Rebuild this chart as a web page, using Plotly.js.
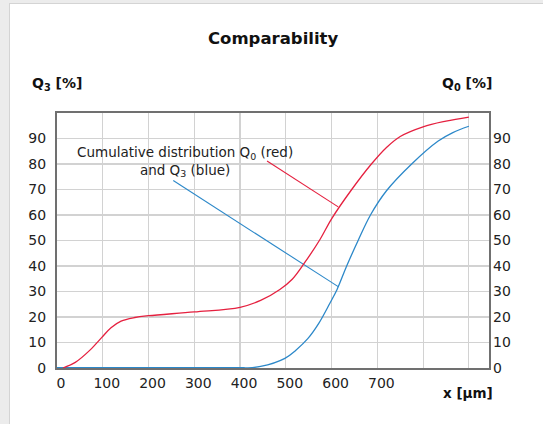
<!DOCTYPE html>
<html>
<head>
<meta charset="utf-8">
<script src="https://cdn.plot.ly/plotly-3.0.1.min.js"></script>
<style>
  html, body { margin: 0; padding: 0; background: #ececec; width: 543px; height: 424px; overflow: hidden; }
  #panel { position: absolute; left: 9px; top: 3px; width: 534px; height: 421px; background: #ffffff;
           border-left: 1px solid #d4d4d4; border-top: 1px solid #d4d4d4; }
  #chart { position: absolute; left: 0; top: 0; width: 543px; height: 424px; }
</style>
</head>
<body>
<div id="panel"></div>
<div id="chart"></div>
<script>
// Particle size x [µm]
const q0X = [13, 40, 72, 98, 118, 140, 170, 200, 300, 400, 445, 487, 514, 540, 575, 600, 644, 687, 720, 750, 800, 850, 900];
// Cumulative distribution Q0 [%] (red, right axis)
const q0Y = [0, 2.2, 7, 12, 15.8, 18.4, 19.8, 20.5, 22, 23.8, 26.5, 30.8, 34.8, 41, 50.5, 58.5, 70, 80, 86.5, 90.8, 94.6, 96.8, 98.4];
const q3X = [0, 200, 410, 445, 498, 522, 548, 572, 596, 612, 633, 658, 685, 720, 775, 833, 865, 900];
// Cumulative distribution Q3 [%] (blue, left axis)
const q3Y = [0, 0, 0, 0.6, 3.8, 7, 11.5, 17.5, 25.3, 30.8, 40, 50, 60, 69.5, 80, 89, 92.3, 94.8];
// Leader lines from the note to each curve
const redLeaderX = [459, 614.5];
const redLeaderY = [81.2, 63.2];
const blueLeaderX = [254, 614.5];
const blueLeaderY = [73.5, 31.9];
// Tick labels
const xTicks = [0, 100, 200, 300, 400, 500, 600, 700];
const xGrid = [0, 100, 200, 300, 400, 500, 600, 700, 800, 900];
const yTicks = [0, 10, 20, 30, 40, 50, 60, 70, 80, 90];

const RED = '#e5203f';
const BLUE = '#2c88c9';
const FONT = 'DejaVu Sans, Verdana, sans-serif';

const traces = [
  { x: [0, 410], y: [0, 0], type: 'scatter', mode: 'lines', yaxis: 'y',
    line: { color: BLUE, width: 2.2 }, hoverinfo: 'skip' },
  { x: q3X, y: q3Y, type: 'scatter', mode: 'lines', yaxis: 'y',
    line: { color: BLUE, width: 1.3, shape: 'spline', smoothing: 1 }, hoverinfo: 'skip' },
  { x: q0X, y: q0Y, type: 'scatter', mode: 'lines', yaxis: 'y2',
    line: { color: RED, width: 1.3, shape: 'spline', smoothing: 1 }, hoverinfo: 'skip' },
  { x: redLeaderX, y: redLeaderY, type: 'scatter', mode: 'lines', yaxis: 'y2',
    line: { color: RED, width: 1.1 }, hoverinfo: 'skip' },
  { x: blueLeaderX, y: blueLeaderY, type: 'scatter', mode: 'lines', yaxis: 'y',
    line: { color: BLUE, width: 1.1 }, hoverinfo: 'skip' }
];

const layout = {
  width: 543, height: 424,
  margin: { l: 57, r: 54, t: 113, b: 56, pad: 0 },
  paper_bgcolor: 'rgba(0,0,0,0)',
  plot_bgcolor: '#ffffff',
  showlegend: false,
  font: { family: FONT, size: 14, color: '#222222' },
  title: { text: '<b>Comparability</b>', x: 0.503, xanchor: 'center', y: 0.91, yanchor: 'middle',
           font: { family: FONT, size: 16.5, color: '#111111' } },
  xaxis: {
    range: [0, 944], tickmode: 'array', tickvals: xGrid,
    ticktext: xGrid.map(v => xTicks.includes(v) ? String(v) : ''),
    showgrid: true, gridcolor: '#d2d2d2', gridwidth: 1.2,
    zeroline: false, showline: true, linecolor: '#707070', linewidth: 2, mirror: true,
    ticks: '', ticklabelstandoff: 1, ticklabelshift: 4,
    tickfont: { family: FONT, size: 14, color: '#222222' }, fixedrange: true
  },
  yaxis: {
    range: [0, 100], tickmode: 'array', tickvals: yTicks.concat([100]),
    ticktext: yTicks.map(String).concat(['']),
    showgrid: true, gridcolor: '#d2d2d2', gridwidth: 1.2,
    zeroline: false, showline: true, linecolor: '#707070', linewidth: 2, mirror: true,
    ticks: '', ticklabelstandoff: 6,
    tickfont: { family: FONT, size: 14, color: '#222222' }, fixedrange: true
  },
  yaxis2: {
    range: [0, 100], overlaying: 'y', side: 'right', tickmode: 'array', tickvals: yTicks,
    ticktext: yTicks.map(String),
    showgrid: false, zeroline: false, showline: false,
    ticks: '', ticklabelstandoff: 3,
    tickfont: { family: FONT, size: 14, color: '#222222' }, fixedrange: true
  },
  annotations: [
    { text: '<b>Q<sub>3</sub> [%]</b>', xref: 'paper', yref: 'paper', x: -0.062, y: 1.113,
      xanchor: 'left', yanchor: 'middle', showarrow: false,
      font: { family: FONT, size: 14, color: '#111111' } },
    { text: '<b>Q<sub>0</sub> [%]</b>', xref: 'paper', yref: 'paper', x: 1.012, y: 1.113,
      xanchor: 'right', yanchor: 'middle', showarrow: false,
      font: { family: FONT, size: 14, color: '#111111' } },
    { text: '<b>x [µm]</b>', xref: 'paper', yref: 'paper', x: 1.015, y: -0.098,
      xanchor: 'right', yanchor: 'middle', showarrow: false,
      font: { family: FONT, size: 13.5, color: '#111111' } },
    { text: 'Cumulative distribution Q<sub>0</sub> (red)<br>and Q<sub>3</sub> (blue)',
      xref: 'x', yref: 'y', x: 279, y: 81, xanchor: 'center', yanchor: 'middle',
      showarrow: false, align: 'center',
      font: { family: FONT, size: 13.5, color: '#222222' } }
  ]
};

Plotly.newPlot('chart', traces, layout, { staticPlot: true, displayModeBar: false });
</script>
</body>
</html>
